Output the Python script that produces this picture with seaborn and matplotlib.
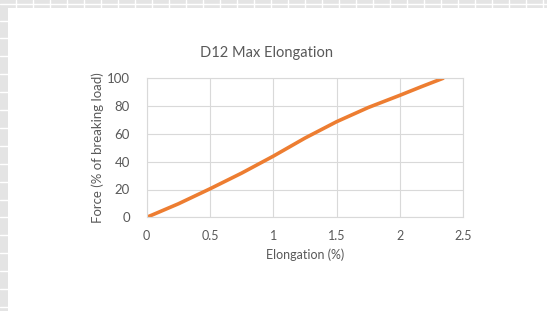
import matplotlib
matplotlib.use("Agg")
import numpy as np
import pandas as pd
import matplotlib.pyplot as plt
import seaborn as sns
from matplotlib.lines import Line2D
from matplotlib.patches import Rectangle

# values
elongation = [0.0, 0.25, 0.5, 0.75, 1.0, 1.25, 1.5, 1.75, 2.0, 2.17, 2.34]
force = [0.0, 9.7, 20.5, 31.8, 44.0, 57.0, 68.8, 79.0, 87.8, 94.0, 100.0]
x_ticks = [0, 0.5, 1, 1.5, 2, 2.5]
y_ticks = [0, 20, 40, 60, 80, 100]

df = pd.DataFrame({"elongation": elongation, "force": force})

sns.set_style("white")
plt.rcParams["font.family"] = ["Lato", "DejaVu Sans"]

W, H = 547, 311
fig = plt.figure(figsize=(W / 100, H / 100), dpi=100)
fig.patch.set_facecolor("#E4E4E4")

# spreadsheet look: white sheet area with gray header strips
fig.add_artist(Rectangle((8 / W, 0), 1, 1 - 8 / H, transform=fig.transFigure,
                         facecolor="white", edgecolor="none", zorder=0))
for px in np.arange(16, W, 17):
    fig.add_artist(Line2D([px / W, px / W], [1 - 8 / H, 1], transform=fig.transFigure,
                          color="white", lw=1.0, zorder=1))
for py in np.arange(20.5, H, 17.9):
    fig.add_artist(Line2D([0, 8 / W], [1 - py / H, 1 - py / H], transform=fig.transFigure,
                          color="white", lw=1.0, zorder=1))
fig.add_artist(Line2D([0, 1], [1 - 4 / H, 1 - 4 / H], transform=fig.transFigure,
                      color="white", lw=1.0, zorder=1))

ax = fig.add_axes([146.7 / W, 1 - 217.3 / H, (463.3 - 146.7) / W, (217.3 - 78.3) / H])
ax.set_facecolor("white")

sns.lineplot(data=df, x="elongation", y="force", ax=ax, color="#ED7D31",
             linewidth=2.6, solid_capstyle="round")

ax.set_xlim(0, 2.5)
ax.set_ylim(0, 100)
ax.set_xticks(x_ticks)
ax.set_xticklabels(["0", "0.5", "1", "1.5", "2", "2.5"])
ax.set_yticks(y_ticks)
ax.grid(True, color="#D9D9D9", linewidth=0.8)
ax.set_axisbelow(True)
for s in ax.spines.values():
    s.set_visible(True)
    s.set_color("#D9D9D9")
    s.set_linewidth(0.8)
ax.tick_params(axis="both", length=0, colors="#595959", labelsize=9)
ax.tick_params(axis="y", pad=12, labelsize=9.5)
ax.tick_params(axis="x", pad=9)

ax.set_xlabel("Elongation (%)", color="#595959", fontsize=9, labelpad=5)
ax.set_ylabel("Force (% of breaking load)", color="#595959", fontsize=9.5, labelpad=2)

# title is centred on the whole chart area, not on the plot area
fig.text(267 / W, 1 - 53 / H, "D12 Max Elongation", color="#595959", fontsize=10.5,
         ha="center", va="center")

fig.savefig("out.png", dpi=100, facecolor=fig.get_facecolor())
